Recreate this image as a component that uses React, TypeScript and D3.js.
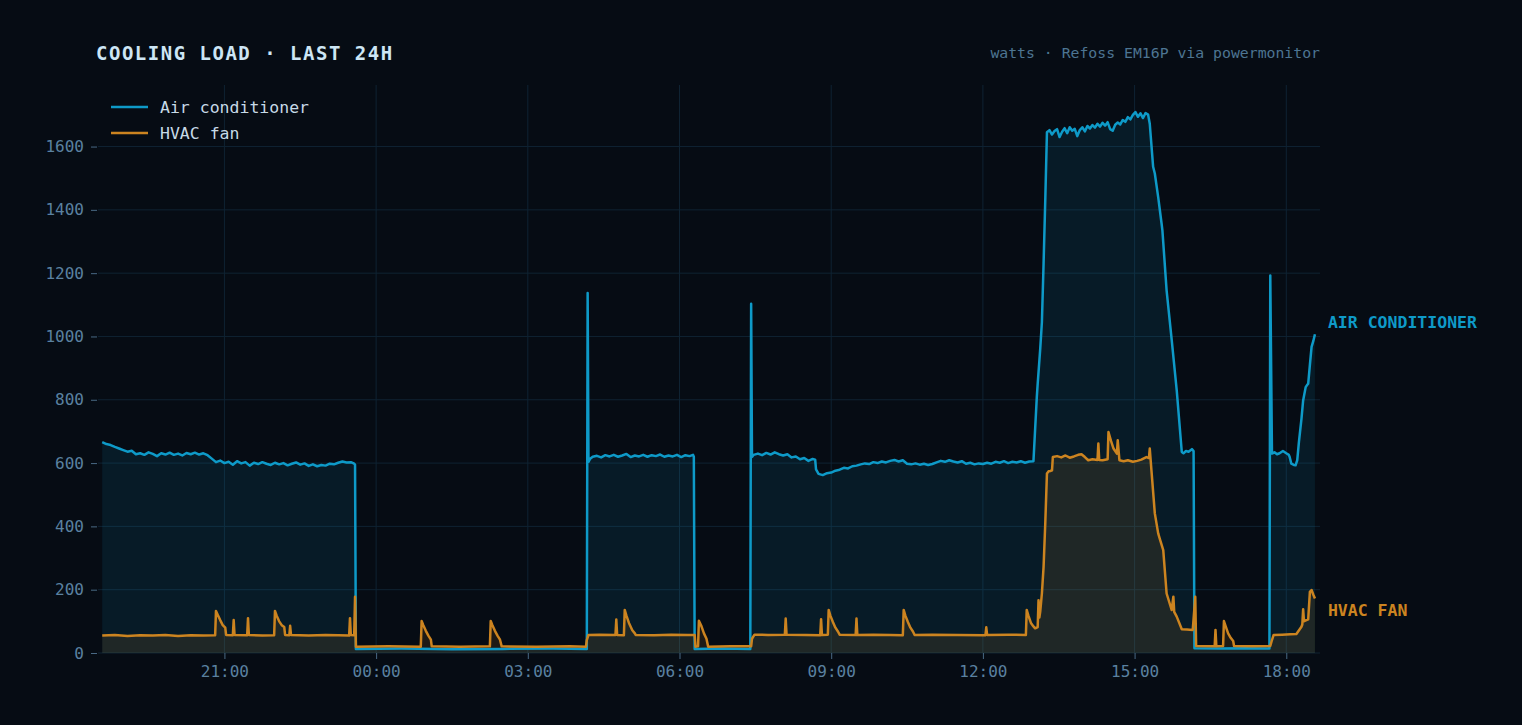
import { useEffect, useRef } from "react";
import * as d3 from "d3";

const WIDTH = 1522;
const HEIGHT = 725;
const margin = { top: 85, right: 202, bottom: 72, left: 98 };

const BG = "#060c14";
const GRID = "#0f2333";
const MUTED = "#5a81a0";
const AC_COLOR = "#0e9ac8";
const FAN_COLOR = "#cc8420";
const FONT = "'DejaVu Sans Mono', monospace";

const title = "COOLING LOAD · LAST 24H";
const subtitle = "watts · Refoss EM16P via powermonitor";
const seriesNames = ["Air conditioner", "HVAC fan"];
const endLabels = ["AIR CONDITIONER", "HVAC FAN"];
const windowStart = "18:30";
const windowEnd = "18:40";
const yTicks = [0, 200, 400, 600, 800, 1000, 1200, 1400, 1600];

// readings as [clock time, watts]; the clock wraps past midnight
const acReadings: [string, number][] = [
  ["18:35", 666], ["18:40", 660], ["18:45", 657], ["18:50", 651], ["18:55", 646],
  ["19:00", 641], ["19:05", 636], ["19:10", 639], ["19:15", 628], ["19:20", 631],
  ["19:25", 626], ["19:30", 634], ["19:35", 629], ["19:40", 622], ["19:45", 631],
  ["19:50", 627], ["19:55", 633], ["20:00", 626], ["20:05", 630], ["20:10", 624],
  ["20:15", 632], ["20:20", 628], ["20:25", 633], ["20:30", 627], ["20:35", 631],
  ["20:40", 625], ["20:45", 614], ["20:50", 603], ["20:55", 608], ["21:00", 600],
  ["21:05", 604], ["21:10", 595], ["21:15", 606], ["21:20", 599], ["21:25", 603],
  ["21:30", 592], ["21:35", 601], ["21:40", 597], ["21:45", 603], ["21:50", 598],
  ["21:55", 594], ["22:00", 601], ["22:05", 596], ["22:10", 600], ["22:15", 593],
  ["22:20", 598], ["22:25", 602], ["22:30", 595], ["22:35", 599], ["22:40", 591],
  ["22:45", 596], ["22:50", 590], ["22:55", 594], ["23:00", 592], ["23:05", 598],
  ["23:10", 596], ["23:15", 601], ["23:20", 605], ["23:25", 602], ["23:30", 603],
  ["23:34", 598], ["23:35", 595], ["23:36", 13],
  ["00:30", 14], ["01:30", 12], ["02:30", 13], ["03:30", 14], ["04:10", 13],
  ["04:11", 1137], ["04:12", 604], ["04:14", 614], ["04:17", 620], ["04:22", 623],
  ["04:27", 618], ["04:32", 625], ["04:37", 621], ["04:42", 626], ["04:47", 620],
  ["04:52", 624], ["04:57", 629], ["05:02", 619], ["05:07", 624], ["05:12", 621],
  ["05:17", 626], ["05:22", 620], ["05:27", 625], ["05:32", 622], ["05:37", 627],
  ["05:42", 620], ["05:47", 624], ["05:52", 621], ["05:57", 626], ["06:02", 619],
  ["06:07", 625], ["06:12", 622], ["06:16", 626], ["06:17", 620], ["06:18", 13],
  ["06:50", 14], ["07:24", 13],
  ["07:25", 1103], ["07:26", 619], ["07:28", 626], ["07:33", 630], ["07:38", 625],
  ["07:43", 632], ["07:48", 627], ["07:53", 634], ["07:58", 628], ["08:03", 624],
  ["08:08", 628], ["08:13", 618], ["08:18", 621], ["08:23", 612], ["08:28", 616],
  ["08:33", 607], ["08:38", 613], ["08:41", 611], ["08:42", 580], ["08:45", 566],
  ["08:50", 562], ["08:55", 568], ["09:00", 570], ["09:05", 576], ["09:10", 579],
  ["09:15", 585], ["09:20", 583], ["09:25", 590], ["09:30", 592], ["09:35", 596],
  ["09:40", 599], ["09:45", 597], ["09:50", 603], ["09:55", 600], ["10:00", 605],
  ["10:05", 602], ["10:10", 607], ["10:15", 610], ["10:20", 605], ["10:25", 609],
  ["10:30", 598], ["10:35", 596], ["10:40", 599], ["10:45", 595], ["10:50", 598],
  ["10:55", 594], ["11:00", 597], ["11:05", 602], ["11:10", 607], ["11:15", 604],
  ["11:20", 609], ["11:25", 605], ["11:30", 602], ["11:35", 606], ["11:40", 598],
  ["11:45", 601], ["11:50", 596], ["11:55", 599], ["12:00", 597], ["12:05", 601],
  ["12:10", 598], ["12:15", 604], ["12:20", 601], ["12:25", 606], ["12:30", 600],
  ["12:35", 604], ["12:40", 602], ["12:45", 606], ["12:50", 601], ["12:55", 605],
  ["13:00", 606], ["13:04", 810], ["13:05", 850], ["13:08", 960], ["13:10", 1045],
  ["13:12", 1230], ["13:14", 1430], ["13:16", 1645], ["13:19", 1652], ["13:22", 1638],
  ["13:25", 1649], ["13:28", 1655], ["13:31", 1630], ["13:34", 1647], ["13:37", 1658],
  ["13:40", 1642], ["13:43", 1661], ["13:46", 1650], ["13:49", 1656], ["13:52", 1633],
  ["13:55", 1652], ["13:58", 1661], ["14:01", 1648], ["14:04", 1665], ["14:07", 1657],
  ["14:10", 1668], ["14:13", 1660], ["14:16", 1672], ["14:19", 1663], ["14:22", 1675],
  ["14:25", 1666], ["14:28", 1677], ["14:31", 1655], ["14:34", 1650], ["14:37", 1669],
  ["14:40", 1676], ["14:43", 1670], ["14:46", 1684], ["14:49", 1678], ["14:52", 1693],
  ["14:55", 1686], ["14:58", 1700], ["15:01", 1709], ["15:04", 1694], ["15:07", 1705],
  ["15:10", 1690], ["15:13", 1706], ["15:16", 1701], ["15:18", 1672], ["15:22", 1536],
  ["15:24", 1515], ["15:28", 1440], ["15:32", 1357], ["15:33", 1335], ["15:38", 1145],
  ["15:44", 990], ["15:50", 830], ["15:56", 635], ["15:58", 631], ["16:01", 638],
  ["16:04", 636], ["16:08", 644], ["16:10", 638], ["16:11", 15],
  ["16:40", 14], ["17:10", 15], ["17:40", 14],
  ["17:41", 1193], ["17:43", 630], ["17:46", 634], ["17:49", 628], ["17:52", 631],
  ["17:56", 638], ["18:00", 631], ["18:03", 626], ["18:04", 619], ["18:06", 598],
  ["18:09", 594], ["18:11", 593], ["18:13", 609], ["18:15", 667], ["18:18", 740],
  ["18:20", 798], ["18:23", 840], ["18:25", 848], ["18:26", 851], ["18:28", 910],
  ["18:30", 967], ["18:32", 985], ["18:34", 1007],
];

const fanReadings: [string, number][] = [
  ["18:35", 55], ["18:50", 57], ["19:05", 54], ["19:20", 56], ["19:35", 55],
  ["19:50", 57], ["20:05", 54], ["20:20", 56], ["20:35", 55], ["20:49", 56],
  ["20:50", 133], ["20:52", 121], ["20:55", 104], ["20:58", 88], ["21:01", 80],
  ["21:02", 57], ["21:10", 56], ["21:11", 104], ["21:12", 57], ["21:27", 56],
  ["21:28", 110], ["21:29", 57], ["21:45", 55], ["21:59", 56], ["22:00", 133],
  ["22:02", 118], ["22:05", 100], ["22:08", 88], ["22:11", 82], ["22:12", 57],
  ["22:17", 56], ["22:18", 86], ["22:19", 57], ["22:40", 55], ["23:00", 57],
  ["23:15", 56], ["23:28", 55], ["23:29", 110], ["23:30", 57], ["23:34", 56],
  ["23:35", 178], ["23:36", 20],
  ["00:15", 21], ["00:53", 20], ["00:54", 101], ["00:56", 88], ["00:59", 70],
  ["01:02", 55], ["01:05", 42], ["01:06", 21], ["01:40", 20], ["02:15", 21],
  ["02:16", 101], ["02:18", 88], ["02:21", 70], ["02:24", 55], ["02:27", 42],
  ["02:29", 21], ["03:10", 20], ["03:50", 21], ["04:09", 20], ["04:10", 41],
  ["04:12", 57], ["04:25", 58], ["04:44", 57], ["04:45", 106], ["04:46", 57],
  ["04:54", 56], ["04:55", 136], ["04:57", 118], ["05:00", 95], ["05:04", 72],
  ["05:07", 62], ["05:08", 57], ["05:30", 56], ["05:50", 58], ["06:10", 57],
  ["06:18", 57], ["06:19", 20], ["06:22", 21], ["06:23", 102], ["06:26", 85],
  ["06:29", 62], ["06:32", 45], ["06:34", 20], ["07:00", 21], ["07:25", 21],
  ["07:26", 45], ["07:29", 58], ["07:45", 57], ["08:05", 58], ["08:06", 109],
  ["08:07", 58], ["08:30", 57], ["08:47", 56], ["08:48", 107], ["08:49", 57],
  ["08:56", 58], ["08:57", 136], ["08:59", 118], ["09:02", 98], ["09:05", 80],
  ["09:08", 68], ["09:10", 58], ["09:29", 57], ["09:30", 109], ["09:31", 57],
  ["09:50", 58], ["10:10", 57], ["10:25", 56], ["10:26", 136], ["10:28", 118],
  ["10:31", 98], ["10:34", 80], ["10:37", 68], ["10:39", 57], ["11:00", 58],
  ["11:30", 57], ["12:03", 56], ["12:04", 81], ["12:05", 57], ["12:30", 58],
  ["12:51", 57], ["12:52", 136], ["12:54", 118], ["12:57", 95], ["13:00", 84],
  ["13:02", 78], ["13:05", 82], ["13:06", 167], ["13:07", 112], ["13:08", 130],
  ["13:10", 188], ["13:12", 272], ["13:14", 409], ["13:16", 567], ["13:18", 574],
  ["13:20", 575], ["13:22", 577], ["13:23", 619], ["13:28", 622], ["13:33", 618],
  ["13:38", 624], ["13:43", 617], ["13:48", 621], ["13:53", 626], ["13:57", 628],
  ["14:01", 619], ["14:05", 609], ["14:10", 612], ["14:16", 610], ["14:17", 662],
  ["14:18", 610], ["14:22", 609], ["14:28", 612], ["14:29", 698], ["14:32", 670],
  ["14:35", 646], ["14:39", 630], ["14:40", 672], ["14:42", 609], ["14:47", 606],
  ["14:52", 609], ["14:58", 604], ["15:03", 607], ["15:08", 611], ["15:14", 619],
  ["15:17", 616], ["15:18", 646], ["15:20", 577], ["15:24", 441], ["15:28", 378],
  ["15:30", 360], ["15:34", 325], ["15:38", 188], ["15:44", 136], ["15:46", 178],
  ["15:47", 130], ["15:50", 115], ["15:56", 75], ["16:02", 74], ["16:09", 73],
  ["16:12", 178], ["16:13", 22], ["16:35", 21], ["16:36", 73], ["16:37", 21],
  ["16:45", 22], ["16:46", 101], ["16:48", 85], ["16:51", 62], ["16:54", 48],
  ["16:57", 38], ["16:58", 22], ["17:20", 21], ["17:41", 22], ["17:43", 41],
  ["17:45", 57], ["17:55", 58], ["18:05", 59], ["18:12", 60], ["18:18", 83],
  ["18:19", 90], ["18:20", 138], ["18:21", 100], ["18:22", 102], ["18:26", 106],
  ["18:28", 193], ["18:30", 199], ["18:32", 185], ["18:34", 172],
];

interface Reading {
  t: Date;
  v: number;
}

const clock = (hm: string, day: number) => {
  const [h, m] = hm.split(":").map(Number);
  return new Date(2024, 6, 15 + day, h, m);
};

const toSeries = (readings: [string, number][]): Reading[] => {
  let day = 0;
  let prev = -1;
  return readings.map(([hm, v]) => {
    const [h, m] = hm.split(":").map(Number);
    const mins = h * 60 + m;
    if (mins < prev) day += 1;
    prev = mins;
    return { t: clock(hm, day), v };
  });
};

const CoolingChart = () => {
  const ref = useRef<SVGSVGElement>(null);

  useEffect(() => {
    const svg = d3.select(ref.current);
    svg.selectAll("*").remove();

    const ac = toSeries(acReadings);
    const fan = toSeries(fanReadings);
    const series = [
      { name: seriesNames[0], label: endLabels[0], data: ac, color: AC_COLOR, fill: 0.11, dy: -12 },
      { name: seriesNames[1], label: endLabels[1], data: fan, color: FAN_COLOR, fill: 0.12, dy: 12 },
    ];

    const x = d3
      .scaleTime()
      .domain([clock(windowStart, 0), clock(windowEnd, 1)])
      .range([margin.left, WIDTH - margin.right]);

    const yMax = (d3.max(ac, (d) => d.v) as number) * 1.05;
    const y = d3
      .scaleLinear()
      .domain([0, yMax])
      .range([HEIGHT - margin.bottom, margin.top]);

    // grid
    const grid = svg.append("g");
    grid
      .selectAll("line.h")
      .data(yTicks)
      .join("line")
      .attr("x1", margin.left)
      .attr("x2", WIDTH - margin.right)
      .attr("y1", (d) => y(d))
      .attr("y2", (d) => y(d))
      .attr("stroke", GRID)
      .attr("stroke-width", 1);
    grid
      .selectAll("line.v")
      .data(x.ticks(d3.timeHour.every(3) as d3.TimeInterval))
      .join("line")
      .attr("x1", (d) => x(d))
      .attr("x2", (d) => x(d))
      .attr("y1", margin.top)
      .attr("y2", HEIGHT - margin.bottom)
      .attr("stroke", GRID)
      .attr("stroke-width", 1);

    // areas then lines
    series.forEach((s) => {
      svg
        .append("path")
        .datum(s.data)
        .attr("fill", s.color)
        .attr("fill-opacity", s.fill)
        .attr(
          "d",
          d3
            .area<Reading>()
            .x((d) => x(d.t))
            .y0(y(0))
            .y1((d) => y(d.v))
        );
    });
    series.forEach((s) => {
      svg
        .append("path")
        .datum(s.data)
        .attr("fill", "none")
        .attr("stroke", s.color)
        .attr("stroke-width", 2.5)
        .attr("stroke-linejoin", "round")
        .attr(
          "d",
          d3
            .line<Reading>()
            .x((d) => x(d.t))
            .y((d) => y(d.v))
        );

      const last = s.data[s.data.length - 1];
      svg
        .append("text")
        .attr("x", x(last.t) + 13)
        .attr("y", y(last.v) + s.dy)
        .attr("dy", "0.35em")
        .attr("fill", s.color)
        .attr("font-family", FONT)
        .attr("font-size", 16.5)
        .attr("font-weight", "bold")
        .text(s.label);
    });

    // axes
    const yAxis = svg
      .append("g")
      .attr("transform", `translate(${margin.left - 1},0)`)
      .call(
        d3
          .axisLeft(y)
          .tickValues(yTicks)
          .tickFormat(d3.format("d"))
          .tickSize(6)
          .tickPadding(7)
      );
    const xAxis = svg
      .append("g")
      .attr("transform", `translate(0,${HEIGHT - margin.bottom})`)
      .call(
        d3
          .axisBottom(x)
          .ticks(d3.timeHour.every(3) as d3.TimeInterval)
          .tickFormat((d) => d3.timeFormat("%H:%M")(d as Date))
          .tickSize(6)
          .tickPadding(7)
      );
    [yAxis, xAxis].forEach((g) => {
      g.select(".domain").remove();
      g.selectAll(".tick line").attr("stroke", MUTED).attr("stroke-opacity", 0.8);
      g.selectAll(".tick text")
        .attr("fill", MUTED)
        .attr("font-family", FONT)
        .attr("font-size", 16);
    });

    // legend
    const legend = svg
      .append("g")
      .selectAll("g")
      .data(series)
      .join("g")
      .attr("transform", (d, i) => `translate(111,${107 + i * 26})`);
    legend
      .append("line")
      .attr("x1", 0)
      .attr("x2", 37)
      .attr("stroke", (d) => d.color)
      .attr("stroke-width", 2.5);
    legend
      .append("text")
      .attr("x", 49)
      .attr("dy", "0.35em")
      .attr("fill", "#c6dae7")
      .attr("font-family", FONT)
      .attr("font-size", 16.5)
      .text((d) => d.name);

    // header
    svg
      .append("text")
      .attr("x", 96)
      .attr("y", 60)
      .attr("fill", "#cde6f5")
      .attr("font-family", FONT)
      .attr("font-size", 19)
      .attr("font-weight", "bold")
      .attr("letter-spacing", 1.5)
      .text(title);
    svg
      .append("text")
      .attr("x", WIDTH - margin.right)
      .attr("y", 58)
      .attr("text-anchor", "end")
      .attr("fill", "#4d7592")
      .attr("font-family", FONT)
      .attr("font-size", 14.8)
      .text(subtitle);
  }, []);

  return <svg ref={ref} width={WIDTH} height={HEIGHT} style={{ display: "block", background: BG }} />;
};

export default function App() {
  return (
    <>
      <style>{`body { margin: 0; background: ${BG}; }`}</style>
      <CoolingChart />
    </>
  );
}
